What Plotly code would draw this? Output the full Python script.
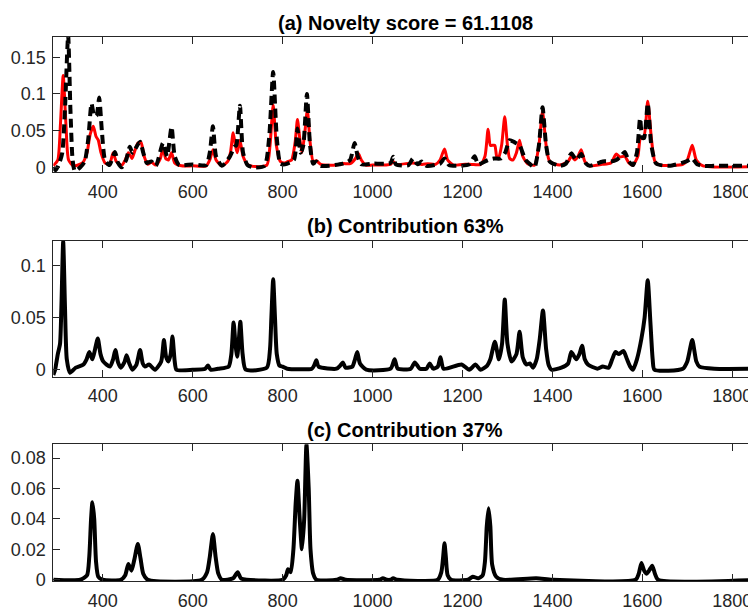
import plotly.graph_objects as go

# ---------------- data ----------------
# Panel (a) - red solid spectrum
a_red_x = [290, 300, 306, 312, 318, 324, 335, 355, 365, 372, 379, 385, 390, 396, 405, 415, 423, 430, 442, 450,
           457, 465, 470, 478, 485, 492, 500, 508, 518, 528, 534, 540, 546, 553, 560, 575, 600, 630, 638, 645,
           652, 665, 678, 684, 690, 695, 699, 705, 712, 722, 740, 765, 772, 779, 786, 795, 805, 812, 820, 828,
           833, 838, 843, 849, 855, 861, 868, 875, 885, 920, 934, 950, 962, 968, 975, 985, 1000, 1040, 1046, 1052,
           1090, 1110, 1123, 1140, 1150, 1160, 1167, 1180, 1200, 1220, 1240, 1250, 1257, 1262, 1268, 1272, 1276, 1280, 1287, 1294,
           1300, 1305, 1312, 1320, 1327, 1334, 1345, 1360, 1370, 1378, 1386, 1394, 1416, 1435, 1442, 1450, 1457, 1464, 1472, 1483,
           1510, 1530, 1542, 1550, 1561, 1570, 1579, 1590, 1596, 1603, 1612, 1620, 1628, 1640, 1690, 1700, 1711, 1720, 1735, 1857]
a_red_y = [0.002, 0.01, 0.06, 0.125, 0.06, 0.01, 0.002, 0.006, 0.02, 0.045, 0.056, 0.042, 0.037, 0.02, 0.006, 0.004, 0.02, 0.008, 0.003, 0.01,
           0.02, 0.012, 0.02, 0.033, 0.034, 0.015, 0.004, 0.007, 0.003, 0.012, 0.026, 0.012, 0.01, 0.02, 0.006, 0.002, 0.002, 0.002, 0.01, 0.024,
           0.01, 0.002, 0.008, 0.02, 0.047, 0.03, 0.02, 0.037, 0.015, 0.004, 0.001, 0.003, 0.03, 0.085, 0.03, 0.008, 0.006, 0.008, 0.01, 0.035,
           0.065, 0.04, 0.02, 0.045, 0.078, 0.035, 0.008, 0.009, 0.004, 0.003, 0.005, 0.005, 0.012, 0.019, 0.01, 0.003, 0.003, 0.004, 0.008, 0.004,
           0.006, 0.004, 0.005, 0.004, 0.01, 0.025, 0.01, 0.003, 0.004, 0.004, 0.004, 0.015, 0.052, 0.03, 0.03, 0.03, 0.015, 0.012, 0.03, 0.069,
           0.03, 0.012, 0.01, 0.02, 0.037, 0.015, 0.005, 0.003, 0.03, 0.076, 0.03, 0.008, 0.003, 0.008, 0.015, 0.01, 0.015, 0.024, 0.008, 0.002,
           0.004, 0.006, 0.018, 0.014, 0.015, 0.006, 0.003, 0.015, 0.04, 0.04, 0.09, 0.04, 0.008, 0.003, 0.004, 0.01, 0.03, 0.01, 0.002, 0.001]

# Panel (a) - black dashed spectrum
a_blk_x = [290, 295, 303, 310, 316, 323, 328, 333, 338, 350, 360, 368, 375, 381, 386, 392, 398, 405, 415, 427,
           434, 442, 452, 460, 466, 472, 483, 490, 498, 508, 518, 534, 543, 553, 560, 570, 600, 630, 638, 645,
           652, 665, 683, 693, 697, 705, 712, 722, 734, 760, 770, 779, 787, 795, 805, 825, 833, 840, 846, 854,
           861, 868, 875, 885, 934, 950, 960, 967, 975, 1001, 1040, 1046, 1052, 1080, 1090, 1100, 1109, 1120, 1150, 1160,
           1170, 1186, 1215, 1227, 1235, 1257, 1270, 1285, 1295, 1305, 1316, 1327, 1340, 1349, 1360, 1370, 1378, 1386, 1394, 1416,
           1430, 1442, 1453, 1464, 1475, 1483, 1512, 1530, 1542, 1552, 1561, 1570, 1579, 1588, 1595, 1600, 1604, 1612, 1620, 1631,
           1660, 1698, 1711, 1722, 1735, 1760, 1800, 1857]
a_blk_y = [0.0, -0.004, 0.005, 0.02, 0.08, 0.18, 0.08, 0.01, -0.005, 0.0, 0.008, 0.04, 0.087, 0.07, 0.07, 0.095, 0.05, 0.01, 0.003, 0.021,
           0.006, 0.0, 0.01, 0.028, 0.02, 0.025, 0.035, 0.02, 0.006, 0.008, 0.002, 0.033, 0.015, 0.055, 0.015, 0.003, 0.004, 0.003, 0.02, 0.056,
           0.015, 0.002, 0.015, 0.028, 0.03, 0.084, 0.02, 0.003, 0.0, 0.002, 0.04, 0.13, 0.04, 0.005, 0.004, 0.01, 0.053, 0.02, 0.03, 0.1,
           0.03, 0.005, 0.008, 0.002, 0.005, 0.01, 0.033, 0.015, 0.004, 0.005, 0.006, 0.0145, 0.004, 0.003, 0.012, 0.004, 0.008, 0.002, 0.005, 0.012,
           0.003, 0.002, 0.004, 0.015, 0.004, 0.01, 0.012, 0.012, 0.02, 0.037, 0.034, 0.03, 0.01, 0.005, 0.0, 0.03, 0.082, 0.03, 0.008, 0.002,
           0.005, 0.019, 0.01, 0.018, 0.005, 0.002, 0.008, 0.008, 0.01, 0.015, 0.021, 0.008, 0.003, 0.02, 0.067, 0.04, 0.04, 0.087, 0.03, 0.005,
           0.002, 0.008, 0.012, 0.004, 0.002, 0.002, 0.002, 0.002]

# Panel (b) - contribution 63%
b_x = [290, 294, 300, 305, 308, 312, 316, 320, 327, 340, 357, 364, 370, 377, 383, 389, 395, 401, 416, 423,
       428, 434, 440, 448, 453, 459, 466, 475, 483, 489, 494, 503, 516, 530, 536, 541, 546, 551, 555, 560,
       564, 600, 628, 634, 640, 657, 680, 686, 691, 695, 699, 702, 706, 711, 718, 765, 772, 775, 779, 783,
       787, 793, 800, 810, 865, 870, 875, 880, 920, 928, 934, 940, 955, 961, 966, 972, 986, 1040, 1049, 1056,
       1085, 1094, 1105, 1120, 1127, 1135, 1145, 1151, 1158, 1198, 1215, 1229, 1240, 1255, 1262, 1272, 1281, 1288, 1294, 1300,
       1309, 1320, 1327, 1334, 1342, 1350, 1357, 1365, 1372, 1379, 1386, 1392, 1398, 1420, 1435, 1442, 1453, 1460, 1466, 1472,
       1479, 1500, 1512, 1525, 1533, 1540, 1548, 1558, 1566, 1573, 1579, 1588, 1598, 1605, 1612, 1618, 1623, 1627, 1690, 1700,
       1711, 1720, 1727, 1760, 1857]
b_y = [-0.005, 0.0, 0.015, 0.025, 0.06, 0.123, 0.06, 0.01, -0.003, 0.002, 0.005, 0.01, 0.017, 0.01, 0.02, 0.03, 0.015, 0.008, 0.003, 0.01,
       0.019, 0.007, 0.002, 0.007, 0.014, 0.006, 0.0, 0.005, 0.019, 0.006, 0.003, 0.005, 0.0, 0.008, 0.0285, 0.012, 0.008, 0.015, 0.032, 0.008,
       0.0, 0.0, 0.001, 0.004, 0.0, 0.001, 0.003, 0.015, 0.0455, 0.025, 0.0125, 0.025, 0.046, 0.015, 0.0, 0.002, 0.02, 0.05, 0.087, 0.05,
       0.015, 0.004, 0.003, 0.001, 0.001, 0.004, 0.009, 0.003, 0.001, 0.004, 0.007, 0.002, 0.003, 0.01, 0.017, 0.006, 0.0, 0.001, 0.01, 0.001,
       0.001, 0.007, 0.001, 0.001, 0.006, 0.001, 0.003, 0.012, 0.001, 0.005, 0.0, 0.005, 0.0, 0.004, 0.01, 0.027, 0.01, 0.025, 0.0675, 0.025,
       0.008, 0.015, 0.0365, 0.012, 0.005, 0.006, 0.002, 0.01, 0.03, 0.057, 0.02, 0.004, 0.0, 0.002, 0.006, 0.017, 0.01, 0.015, 0.023, 0.01,
       0.005, 0.001, 0.003, 0.002, 0.01, 0.017, 0.015, 0.018, 0.01, 0.003, 0.0, 0.01, 0.03, 0.05, 0.086, 0.045, 0.01, 0.0, 0.001, 0.008,
       0.0285, 0.008, 0.003, 0.001, 0.001]

# Panel (c) - contribution 37%
c_x = [290, 350, 365, 370, 374, 377, 381, 385, 390, 400, 440, 450, 457, 464, 470, 478, 484, 490, 500, 620,
       632, 638, 645, 651, 657, 665, 690, 700, 707, 720, 800, 808, 812, 818, 824, 829, 833, 838, 843, 848,
       853, 858, 862, 868, 875, 920, 929, 940, 1015, 1023, 1032, 1040, 1046, 1055, 1145, 1153, 1157, 1160, 1163, 1167,
       1175, 1212, 1223, 1235, 1245, 1250, 1254, 1258, 1262, 1266, 1275, 1290, 1364, 1400, 1585, 1592, 1598, 1604, 1609, 1615,
       1622, 1628, 1635, 1857]
c_y = [0.0, 0.0, 0.003, 0.015, 0.04, 0.051, 0.04, 0.012, 0.002, 0.0, 0.0, 0.003, 0.0104, 0.006, 0.013, 0.0235, 0.014, 0.004, 0.0, 0.0,
       0.005, 0.015, 0.03, 0.015, 0.004, 0.0, 0.001, 0.005, 0.001, 0.0, 0.0, 0.003, 0.007, 0.005, 0.02, 0.05, 0.065, 0.04, 0.02, 0.04,
       0.089, 0.06, 0.02, 0.004, 0.0, 0.0, 0.001, 0.0, 0.0, 0.001, 0.0, 0.0, 0.001, 0.0, 0.0, 0.005, 0.015, 0.024, 0.015, 0.003,
       0.0, 0.0, 0.002, 0.001, 0.003, 0.012, 0.035, 0.047, 0.035, 0.01, 0.002, 0.0, 0.001, 0.0, 0.0, 0.004, 0.011, 0.006, 0.004, 0.006,
       0.0093, 0.004, 0.0, 0.0]

x_ticks = [400, 600, 800, 1000, 1200, 1400, 1600, 1800]
a_yticks = [0, 0.05, 0.1, 0.15]
a_yticktext = ["0", "0.05", "0.1", "0.15"]
b_yticks = [0, 0.05, 0.1]
b_yticktext = ["0", "0.05", "0.1"]
c_yticks = [0, 0.02, 0.04, 0.06, 0.08]
c_yticktext = ["0", "0.02", "0.04", "0.06", "0.08"]
titles = ["(a) Novelty score = 61.1108", "(b) Contribution 63%", "(c) Contribution 37%"]

# ---------------- figure ----------------
W, H = 756, 608
OFF = 8  # page offset of the plot div (body margin)
AX = "#262626"
FONT = "Liberation Sans, Arial, sans-serif"
x_range = [290, 1855]
x_dom = [(53.3 - OFF) / W, (757 - OFF) / W]

panels = [
    dict(top=36.7, bot=172.3, yr=[-0.0068, 0.178], tv=a_yticks, tt=a_yticktext, ty=23),
    dict(top=241.0, bot=376.7, yr=[-0.0067, 0.1237], tv=b_yticks, tt=b_yticktext, ty=226),
    dict(top=444.3, bot=581.0, yr=[-0.0008, 0.089], tv=c_yticks, tt=c_yticktext, ty=430),
]

fig = go.Figure()

SHAPE = dict(shape="spline", smoothing=0.6)
fig.add_trace(go.Scatter(x=a_red_x, y=a_red_y, mode="lines", line=dict(color="#ff0000", width=3, **SHAPE),
                         xaxis="x", yaxis="y", showlegend=False, hoverinfo="skip"))
fig.add_trace(go.Scatter(x=a_blk_x, y=a_blk_y, mode="lines",
                         line=dict(color="#000000", width=4, dash="9px,5px", **SHAPE),
                         xaxis="x", yaxis="y", showlegend=False, hoverinfo="skip"))
fig.add_trace(go.Scatter(x=b_x, y=b_y, mode="lines", line=dict(color="#000000", width=4, **SHAPE),
                         xaxis="x2", yaxis="y2", showlegend=False, hoverinfo="skip"))
fig.add_trace(go.Scatter(x=c_x, y=c_y, mode="lines", line=dict(color="#000000", width=4, **SHAPE),
                         xaxis="x3", yaxis="y3", showlegend=False, hoverinfo="skip"))

layout = dict(template="none", width=W, height=H, margin=dict(l=0, r=0, t=0, b=0, pad=0),
              paper_bgcolor="white", plot_bgcolor="white",
              font=dict(family=FONT, color=AX, size=18), showlegend=False)

annotations = []
for i, p in enumerate(panels, start=1):
    xs = "" if i == 1 else str(i)
    ydom = [1 - (p["bot"] - OFF) / H, 1 - (p["top"] - OFF) / H]
    layout["xaxis" + xs] = dict(domain=x_dom, range=x_range, anchor="y" + xs, automargin=False,
                                tickvals=x_ticks, ticktext=[str(v) for v in x_ticks],
                                ticks="inside", ticklen=7, tickcolor=AX, tickwidth=1,
                                showline=True, linecolor=AX, linewidth=1, mirror="ticks",
                                showgrid=False, zeroline=False, ticklabelstandoff=3,
                                tickfont=dict(family=FONT, size=18, color=AX))
    layout["yaxis" + xs] = dict(domain=ydom, range=p["yr"], anchor="x" + xs, automargin=False,
                                tickvals=p["tv"], ticktext=p["tt"],
                                ticks="inside", ticklen=7, tickcolor=AX, tickwidth=1,
                                showline=True, linecolor=AX, linewidth=1, mirror="ticks",
                                showgrid=False, zeroline=False, ticklabelstandoff=3,
                                tickfont=dict(family=FONT, size=18, color=AX))
    annotations.append(dict(text="<b>" + titles[i - 1] + "</b>", xref="paper", yref="paper",
                            x=(x_dom[0] + x_dom[1]) / 2, y=1 - (p["ty"] - OFF) / H,
                            xanchor="center", yanchor="middle", showarrow=False,
                            font=dict(family=FONT, size=20, color="#000000")))

layout["annotations"] = annotations
fig.update_layout(**layout)

fig.write_html("out.html")
